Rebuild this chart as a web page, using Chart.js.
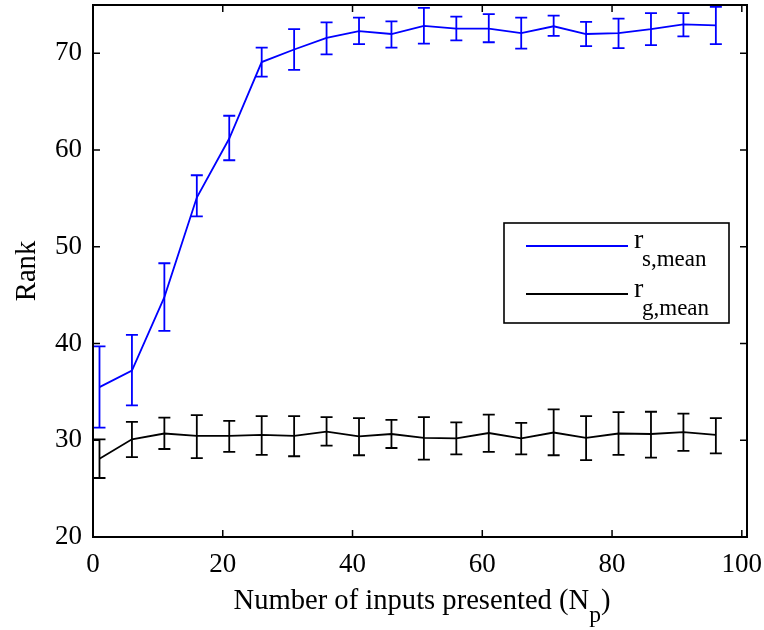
<!DOCTYPE html>
<html>
<head>
<meta charset="utf-8">
<script src="https://cdn.jsdelivr.net/npm/chart.js@4/dist/chart.umd.min.js"></script>
<style>
  html, body { margin: 0; padding: 0; background: #fff; }
  #wrap { width: 764px; height: 630px; }
</style>
</head>
<body>
<div id="wrap"><canvas id="c" width="764" height="630"></canvas></div>
<script>
// ---- data ----
const inputsPresented = [1, 6, 11, 16, 21, 26, 31, 36, 41, 46, 51, 56, 61, 66, 71, 76, 81, 86, 91, 96];

const sMean = [35.5, 37.2, 44.8, 55.1, 61.2, 69.1, 70.4, 71.6, 72.3, 72.0, 72.85, 72.55, 72.55, 72.1, 72.8, 72.0, 72.1, 72.5, 73.0, 72.9];
const sLow  = [31.3, 33.6, 41.3, 53.15, 58.95, 67.6, 68.3, 69.9, 70.95, 70.6, 71.0, 71.35, 71.15, 70.5, 71.8, 70.75, 70.55, 70.85, 71.75, 70.95];
const sHigh = [39.7, 40.9, 48.3, 57.4, 63.55, 70.6, 72.5, 73.2, 73.7, 73.3, 74.7, 73.8, 74.05, 73.7, 73.9, 73.25, 73.6, 74.15, 74.15, 74.8];

const gMean = [28.1, 30.1, 30.7, 30.45, 30.45, 30.55, 30.45, 30.9, 30.4, 30.65, 30.25, 30.2, 30.75, 30.2, 30.8, 30.25, 30.7, 30.65, 30.85, 30.55];
const gLow  = [26.1, 28.25, 29.1, 28.15, 28.8, 28.5, 28.35, 29.45, 28.45, 29.2, 28.0, 28.55, 28.8, 28.55, 28.45, 27.95, 28.5, 28.2, 28.9, 28.65];
const gHigh = [30.1, 31.9, 32.35, 32.6, 32.0, 32.5, 32.5, 32.4, 32.3, 32.1, 32.4, 31.85, 32.65, 31.8, 33.2, 32.5, 32.9, 32.95, 32.75, 32.3];

const xTicks = [0, 20, 40, 60, 80, 100];
const yTicks = [20, 30, 40, 50, 60, 70];

const seriesMain = ['r', 'r'];
const seriesSub = ['s,mean', 'g,mean'];
const xTitleMain = 'Number of inputs presented (N';
const xTitleSub = 'p';
const xTitleEnd = ')';
const yTitle = 'Rank';

// ---- styling ----
const SERIF = "'Liberation Serif', 'Times New Roman', Times, serif";
const BLUE = '#0000ff';
const BLACK = '#000000';
const LW = 1.8;
Chart.defaults.font.family = SERIF;
Chart.defaults.color = '#000';

const toPts = (ys) => ys.map((y, i) => ({ x: inputsPresented[i], y }));

const errorBarPlugin = {
  id: 'errorBars',
  afterDatasetsDraw(chart) {
    const { ctx, scales: { x, y } } = chart;
    const sets = [
      { lo: sLow, hi: sHigh, color: BLUE },
      { lo: gLow, hi: gHigh, color: BLACK }
    ];
    ctx.save();
    ctx.lineWidth = LW;
    sets.forEach(s => {
      ctx.strokeStyle = s.color;
      inputsPresented.forEach((xv, i) => {
        const px = x.getPixelForValue(xv);
        const y1 = y.getPixelForValue(s.lo[i]);
        const y2 = y.getPixelForValue(s.hi[i]);
        const cw = 6;
        ctx.beginPath();
        ctx.moveTo(px, y1); ctx.lineTo(px, y2);
        ctx.moveTo(px - cw, y1); ctx.lineTo(px + cw, y1);
        ctx.moveTo(px - cw, y2); ctx.lineTo(px + cw, y2);
        ctx.stroke();
      });
    });
    ctx.restore();
  },
  afterDraw(chart) {
    const { ctx, chartArea: a, scales: { x, y } } = chart;
    ctx.save();
    // box
    ctx.strokeStyle = '#000';
    ctx.lineWidth = 2;
    ctx.strokeRect(a.left, a.top, a.right - a.left, a.bottom - a.top);
    // inward ticks on all four sides
    const tl = 7;
    ctx.lineWidth = 1.5;
    ctx.beginPath();
    xTicks.forEach(v => {
      const px = x.getPixelForValue(v);
      ctx.moveTo(px, a.bottom); ctx.lineTo(px, a.bottom - tl);
      ctx.moveTo(px, a.top); ctx.lineTo(px, a.top + tl);
    });
    yTicks.forEach(v => {
      const py = y.getPixelForValue(v);
      ctx.moveTo(a.left, py); ctx.lineTo(a.left + tl, py);
      ctx.moveTo(a.right, py); ctx.lineTo(a.right - tl, py);
    });
    ctx.stroke();

    // legend
    const lx = 504, ly = 223, lw = 225, lh = 100;
    ctx.fillStyle = '#fff';
    ctx.fillRect(lx, ly, lw, lh);
    ctx.lineWidth = 1.6;
    ctx.strokeStyle = '#000';
    ctx.strokeRect(lx, ly, lw, lh);
    const rows = [
      { color: BLUE, lineY: 246, base: 248 },
      { color: BLACK, lineY: 294, base: 297 }
    ];
    rows.forEach((r, i) => {
      ctx.strokeStyle = r.color;
      ctx.lineWidth = LW;
      ctx.beginPath();
      ctx.moveTo(526, r.lineY); ctx.lineTo(628, r.lineY);
      ctx.stroke();
      ctx.fillStyle = '#000';
      ctx.textAlign = 'left';
      ctx.textBaseline = 'alphabetic';
      ctx.font = '28px ' + SERIF;
      ctx.fillText(seriesMain[i], 634, r.base);
      ctx.font = '23px ' + SERIF;
      ctx.fillText(seriesSub[i], 642, r.base + 18);
    });

    // x title with subscript
    ctx.fillStyle = '#000';
    ctx.textBaseline = 'alphabetic';
    ctx.textAlign = 'left';
    const mainFont = '28.6px ' + SERIF;
    const subFont = '23.5px ' + SERIF;
    ctx.font = mainFont;
    const w1 = ctx.measureText(xTitleMain).width;
    const w3 = ctx.measureText(xTitleEnd).width;
    ctx.font = subFont;
    const w2 = ctx.measureText(xTitleSub).width;
    const total = w1 + w2 + w3;
    const cx = (a.left + a.right) / 2 + 2;
    let sx = cx - total / 2;
    const base = 609;
    ctx.font = mainFont;
    ctx.fillText(xTitleMain, sx, base);
    ctx.font = subFont;
    ctx.fillText(xTitleSub, sx + w1, base + 13);
    ctx.font = mainFont;
    ctx.fillText(xTitleEnd, sx + w1 + w2, base);

    // y title
    ctx.save();
    ctx.translate(35, (a.top + a.bottom) / 2);
    ctx.rotate(-Math.PI / 2);
    ctx.textAlign = 'center';
    ctx.textBaseline = 'alphabetic';
    ctx.font = mainFont;
    ctx.fillText(yTitle, 0, 0);
    ctx.restore();

    ctx.restore();
  }
};

const bgPlugin = {
  id: 'bg',
  beforeDraw(chart) {
    const ctx = chart.ctx;
    ctx.save();
    ctx.fillStyle = '#fff';
    ctx.fillRect(0, 0, chart.width, chart.height);
    ctx.restore();
  }
};

new Chart(document.getElementById('c'), {
  type: 'line',
  data: {
    datasets: [
      { label: 'r s,mean', data: toPts(sMean), borderColor: BLUE, borderWidth: LW, pointRadius: 0, tension: 0, fill: false },
      { label: 'r g,mean', data: toPts(gMean), borderColor: BLACK, borderWidth: LW, pointRadius: 0, tension: 0, fill: false }
    ]
  },
  options: {
    responsive: false,
    animation: false,
    devicePixelRatio: 1,
    layout: { padding: { left: 0, top: 5, right: 17, bottom: 0 } },
    plugins: { legend: { display: false }, tooltip: { enabled: false } },
    scales: {
      x: {
        type: 'linear',
        min: 0,
        max: 100.8,
        afterBuildTicks: s => { s.ticks = xTicks.map(v => ({ value: v })); },
        afterFit: s => { s.height = 93; s.paddingLeft = 0; s.paddingRight = 0; },
        grid: { display: false, drawTicks: false },
        border: { display: false },
        ticks: { padding: 12, font: { size: 27, family: SERIF }, color: '#000', maxRotation: 0 }
      },
      y: {
        type: 'linear',
        min: 20,
        max: 75,
        afterBuildTicks: s => { s.ticks = yTicks.map(v => ({ value: v })); },
        afterFit: s => { s.width = 93; s.paddingTop = 0; s.paddingBottom = 0; },
        grid: { display: false, drawTicks: false },
        border: { display: false },
        ticks: { padding: 11, font: { size: 27, family: SERIF }, color: '#000' }
      }
    }
  },
  plugins: [bgPlugin, errorBarPlugin]
});
</script>
</body>
</html>
